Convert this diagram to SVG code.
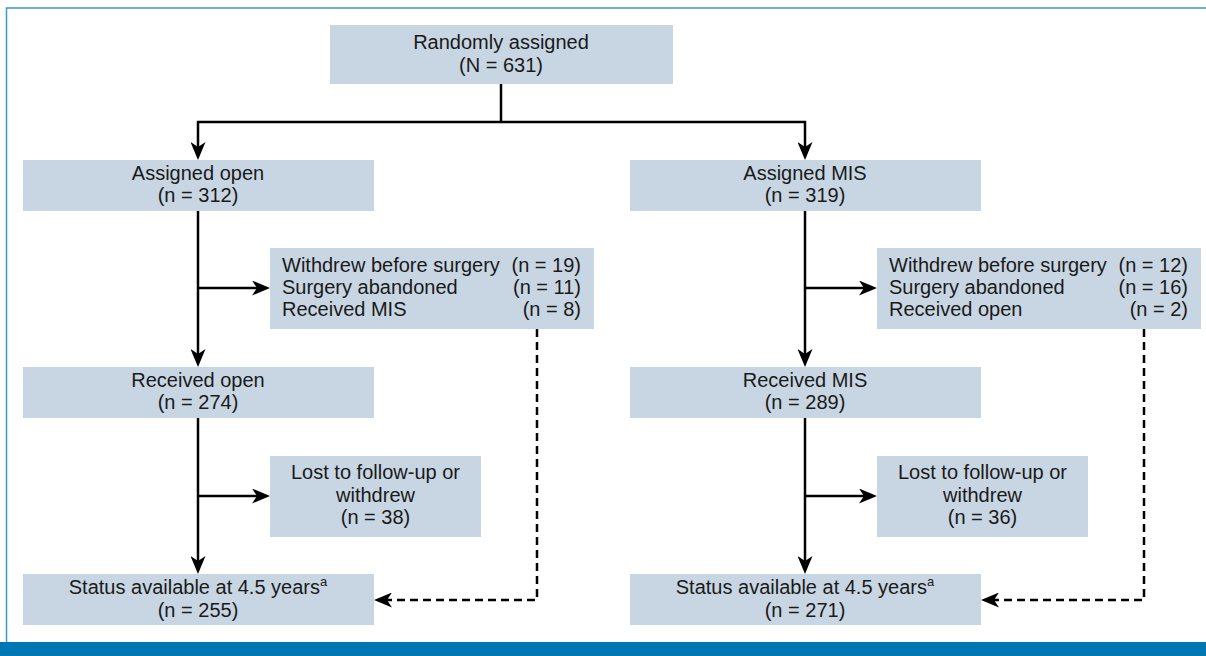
<svg xmlns="http://www.w3.org/2000/svg" width="1206" height="656" viewBox="0 0 1206 656">
<defs>
<style>
.box{fill:#c8d6e3}
.t{font-family:"Liberation Sans",Arial,sans-serif;font-size:20px;fill:#1a1a1a}
.c{text-anchor:middle}
.e{text-anchor:end}
.ln{fill:none;stroke:#000;stroke-width:2.5;stroke-linejoin:miter}
.ar{marker-end:url(#ah)}
.da{stroke-dasharray:8,5}
</style>
<marker id="ah" viewBox="0 0 18 15" refX="5" refY="7.5" markerWidth="18" markerHeight="15" markerUnits="userSpaceOnUse" orient="auto">
<path d="M0,0 L18,7.5 L0,15 L5,7.5 Z" fill="#000"/>
</marker>
</defs>
<rect x="0" y="0" width="1206" height="656" fill="#fff"/>
<g id="frame">
<path d="M6.5,642 V8 H1206" fill="none" stroke="#3d96c9" stroke-width="1.5"/>
<rect x="0" y="642" width="1206" height="14" fill="#0077b2"/>
</g>
<g id="connectors">
<path class="ln" d="M501,84 V122"/>
<path class="ln ar" d="M501,122 H198 V147"/>
<path class="ln ar" d="M501,122 H805 V147"/>
<path class="ln ar" d="M198,211 V354"/>
<path class="ln ar" d="M198,288 H257"/>
<path class="ln ar" d="M805,211 V354"/>
<path class="ln ar" d="M805,288 H864"/>
<path class="ln ar" d="M198,418 V561"/>
<path class="ln ar" d="M198,496 H257"/>
<path class="ln ar" d="M805,418 V561"/>
<path class="ln ar" d="M805,496 H864"/>
<path class="ln ar da" d="M537,329 V600 H387"/>
<path class="ln ar da" d="M1144,329 V600 H994"/>
</g>
<g id="randomized">
<rect class="box" x="330" y="25" width="343" height="59"/>
<text class="t c" x="501" y="49">Randomly assigned</text>
<text class="t c" x="501" y="72">(N = 631)</text>
</g>
<g id="assigned-open">
<rect class="box" x="23" y="160" width="351" height="51"/>
<text class="t c" x="198" y="180">Assigned open</text>
<text class="t c" x="198" y="202">(n = 312)</text>
</g>
<g id="assigned-mis">
<rect class="box" x="630" y="160" width="351" height="51"/>
<text class="t c" x="805" y="180">Assigned MIS</text>
<text class="t c" x="805" y="202">(n = 319)</text>
</g>
<g id="excluded-open">
<rect class="box" x="270" y="248" width="324" height="81"/>
<text class="t" x="282" y="272">Withdrew before surgery</text>
<text class="t" x="282" y="294">Surgery abandoned</text>
<text class="t" x="282" y="316">Received MIS</text>
<text class="t e" x="581" y="272">(n = 19)</text>
<text class="t e" x="581" y="294">(n = 11)</text>
<text class="t e" x="581" y="316">(n = 8)</text>
</g>
<g id="excluded-mis">
<rect class="box" x="877" y="248" width="324" height="81"/>
<text class="t" x="889" y="272">Withdrew before surgery</text>
<text class="t" x="889" y="294">Surgery abandoned</text>
<text class="t" x="889" y="316">Received open</text>
<text class="t e" x="1188" y="272">(n = 12)</text>
<text class="t e" x="1188" y="294">(n = 16)</text>
<text class="t e" x="1188" y="316">(n = 2)</text>
</g>
<g id="received-open">
<rect class="box" x="23" y="367" width="351" height="51"/>
<text class="t c" x="198" y="387">Received open</text>
<text class="t c" x="198" y="409">(n = 274)</text>
</g>
<g id="received-mis">
<rect class="box" x="630" y="367" width="351" height="51"/>
<text class="t c" x="805" y="387">Received MIS</text>
<text class="t c" x="805" y="409">(n = 289)</text>
</g>
<g id="lost-open">
<rect class="box" x="270" y="456" width="211" height="81"/>
<text class="t c" x="375.5" y="479">Lost to follow-up or</text>
<text class="t c" x="375.5" y="501.5">withdrew</text>
<text class="t c" x="375.5" y="524">(n = 38)</text>
</g>
<g id="lost-mis">
<rect class="box" x="877" y="456" width="211" height="81"/>
<text class="t c" x="982.5" y="479">Lost to follow-up or</text>
<text class="t c" x="982.5" y="501.5">withdrew</text>
<text class="t c" x="982.5" y="524">(n = 36)</text>
</g>
<g id="status-open">
<rect class="box" x="23" y="574" width="351" height="51"/>
<text class="t c" x="198" y="594">Status available at 4.5 years<tspan font-size="13" dy="-8">a</tspan></text>
<text class="t c" x="198" y="617">(n = 255)</text>
</g>
<g id="status-mis">
<rect class="box" x="630" y="574" width="351" height="51"/>
<text class="t c" x="805" y="594">Status available at 4.5 years<tspan font-size="13" dy="-8">a</tspan></text>
<text class="t c" x="805" y="617">(n = 271)</text>
</g>
</svg>
